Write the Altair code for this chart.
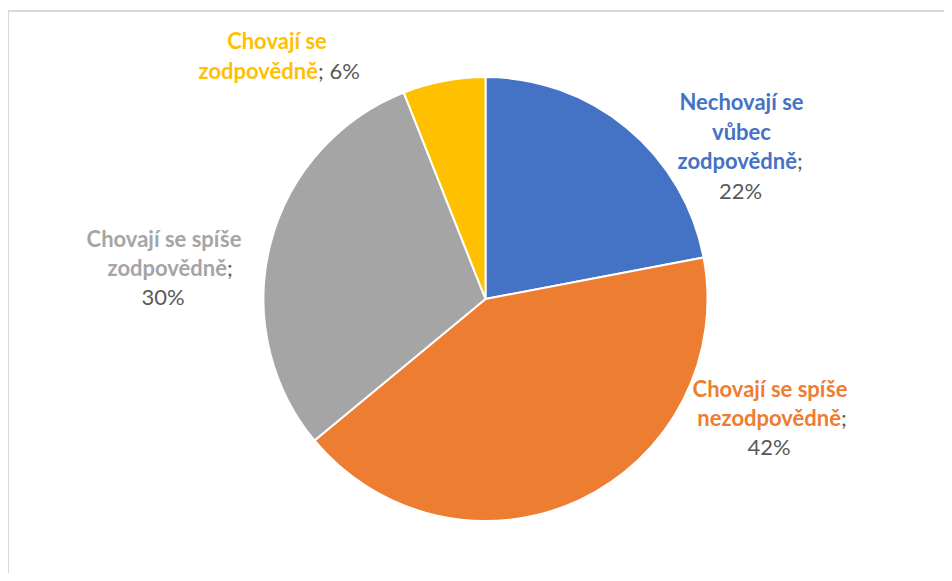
import altair as alt
import pandas as pd

# ---- data ----
categories = [
    "Nechovají se vůbec zodpovědně",
    "Chovají se spíše nezodpovědně",
    "Chovají se spíše zodpovědně",
    "Chovají se zodpovědně",
]
values = [22, 42, 30, 6]
colors = ["#4472C4", "#ED7D31", "#A5A5A5", "#FFC000"]

# label line breaks (text only)
label_lines = [
    ["Nechovají se", "vůbec", "zodpovědně"],
    ["Chovají se spíše", "nezodpovědně"],
    ["Chovají se spíše", "zodpovědně"],
    ["Chovají se", "zodpovědně"],
]

# ---- layout (page pixel positions converted to view coords) ----
M = 8
CX, CY, R = 485.5 - M, 299 - M, 222
FONT = "Lato"
FS = 22
GRAY_TXT = "#595959"

label_layout = [
    dict(cx=741.5, join=797, y0=103, step=29.5, pct_own_line=True),
    dict(cx=770, join=841, y0=390, step=29, pct_own_line=True),
    dict(cx=164, join=227, y0=240, step=29, pct_own_line=True),
    dict(cx=277, join=318, y0=42, step=30, pct_own_line=False),
]

rows = []
for cat_i, (lines, lay) in enumerate(zip(label_lines, label_layout)):
    col = colors[cat_i]
    pct = f"{values[cat_i]}%"
    for li, line in enumerate(lines):
        y = lay["y0"] + li * lay["step"] - M
        last = li == len(lines) - 1
        if not last:
            rows.append(dict(t=line, x=lay["cx"] - M, y=y, c=col, a="center", w="bold"))
        else:
            rows.append(dict(t=line, x=lay["join"] - M, y=y, c=col, a="right", w="bold"))
            tail = ";" if lay["pct_own_line"] else "; " + pct
            rows.append(dict(t=tail, x=lay["join"] - M, y=y, c=GRAY_TXT, a="left", w="normal"))
            if lay["pct_own_line"]:
                rows.append(dict(t=pct, x=lay["cx"] - M - 1, y=y + lay["step"], c=GRAY_TXT, a="center", w="normal"))

labels = pd.DataFrame(rows)

df = pd.DataFrame({"category": categories, "value": values, "order": list(range(len(values)))})

pie = alt.Chart(df).mark_arc(radius=R, stroke="white", strokeWidth=2).encode(
    theta=alt.Theta("value:Q", stack=True),
    order=alt.Order("order:Q", sort="ascending"),
    color=alt.Color("category:N", scale=alt.Scale(domain=categories, range=colors), legend=None),
    x=alt.value(CX),
    y=alt.value(CY),
)

def text_layer(align, weight):
    sub = labels[(labels["a"] == align) & (labels["w"] == weight)]
    return alt.Chart(sub).mark_text(
        align=align, baseline="middle", font=FONT, fontSize=FS, fontWeight=weight
    ).encode(
        x=alt.X("x:Q", scale=None),
        y=alt.Y("y:Q", scale=None),
        text="t:N",
        color=alt.Color("c:N", scale=None),
    )

text_layers = [text_layer(a, w) for a in ["center", "right", "left"] for w in ["bold", "normal"]
               if len(labels[(labels["a"] == a) & (labels["w"] == w)]) > 0]

border_df = pd.DataFrame({"k": [0]})
top_rule = alt.Chart(border_df).mark_rule(color="#d9d9d9", strokeWidth=2).encode(
    x=alt.value(-1), x2=alt.value(950), y=alt.value(3)
)
left_rule = alt.Chart(border_df).mark_rule(color="#d9d9d9", strokeWidth=2).encode(
    x=alt.value(0), y=alt.value(2), y2=alt.value(580)
)

chart = alt.layer(top_rule, left_rule, pie, *text_layers).properties(
    width=936, height=565, padding=0, autosize=alt.AutoSizeParams(type="none")
).configure_view(strokeWidth=0)

chart.save("out.html", embed_options={"renderer": "svg", "actions": False})
